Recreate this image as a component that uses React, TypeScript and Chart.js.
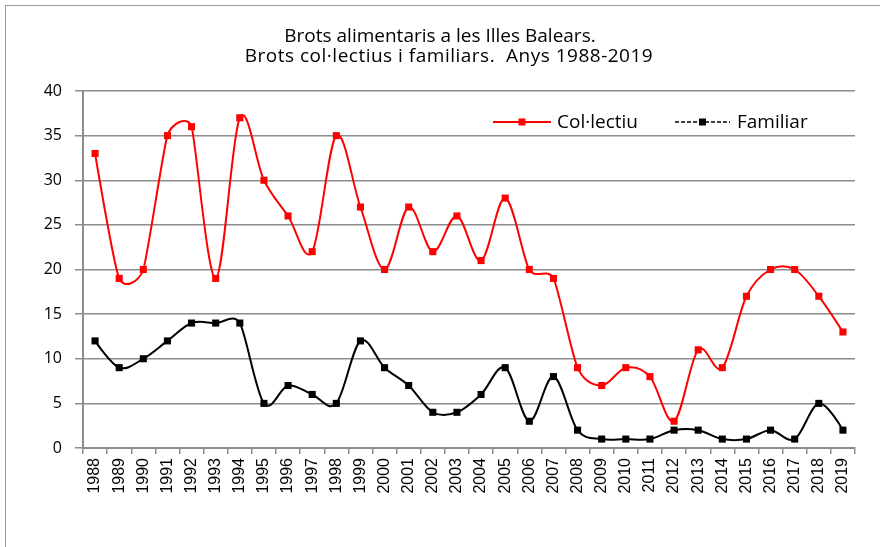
import React, { useEffect, useRef } from 'react';
import { Chart, registerables } from 'chart.js';

Chart.register(...registerables);

const YEARS = [
  '1988', '1989', '1990', '1991', '1992', '1993', '1994', '1995', '1996', '1997', '1998',
  '1999', '2000', '2001', '2002', '2003', '2004', '2005', '2006', '2007', '2008', '2009',
  '2010', '2011', '2012', '2013', '2014', '2015', '2016', '2017', '2018', '2019',
];

const COLLECTIU = [
  33, 19, 20, 35, 36, 19, 37, 30, 26, 22, 35, 27, 20, 27, 22, 26, 21, 28, 20, 19, 9, 7, 9, 8,
  3, 11, 9, 17, 20, 20, 17, 13,
];

const FAMILIAR = [
  12, 9, 10, 12, 14, 14, 14, 5, 7, 6, 5, 12, 9, 7, 4, 4, 6, 9, 3, 8, 2, 1, 1, 1, 2, 2, 1, 1, 2,
  1, 5, 2,
];

const TITLE_LINES = [
  'Brots alimentaris a les Illes Balears.',
  'Brots col·lectius i familiars.  Anys 1988-2019',
];

const SERIES_NAMES = ['Col·lectiu', 'Familiar'];
const SERIES_COLORS = ['#ff0000', '#000000'];

const Y_MIN = 0;
const Y_MAX = 40;
const Y_STEP = 5;

const GRID = '#8c8c8c';

// Excel-like smoothing: Catmull-Rom (1/6) control points capped at half the shorter adjacent segment
const smoothPlugin = {
  id: 'excelSmooth',
  beforeDatasetDraw(chart: any, args: any) {
    const meta = args.meta;
    const line = meta.dataset;
    if (!line) return;
    line.updateControlPoints(chart.chartArea, 'x');
    const pts = meta.data;
    for (let i = 0; i < pts.length; i++) {
      const p = pts[i];
      const pv = pts[i - 1] || p;
      const nx = pts[i + 1] || p;
      const vx = nx.x - pv.x;
      const vy = nx.y - pv.y;
      const d02 = Math.hypot(vx, vy);
      const d01 = Math.hypot(p.x - pv.x, p.y - pv.y);
      const d12 = Math.hypot(nx.x - p.x, nx.y - p.y);
      let f = 0;
      if (d02 > 0 && d01 > 0 && d12 > 0) {
        const len = Math.min(d02 / 6, Math.min(d01, d12) / 2);
        f = len / d02;
      }
      p.cp1x = p.x - vx * f;
      p.cp1y = p.y - vy * f;
      p.cp2x = p.x + vx * f;
      p.cp2y = p.y + vy * f;
    }
    line._path = undefined;
  },
};

const decorPlugin = {
  id: 'decor',
  afterDraw(chart: any) {
    const ctx = chart.ctx;
    ctx.save();
    // Title
    ctx.fillStyle = '#000';
    ctx.textAlign = 'center';
    ctx.textBaseline = 'middle';
    ctx.font = '19px "Open Sans"';
    ctx.fillText(TITLE_LINES[0], 434, 31);
    ctx.letterSpacing = '0.5px';
    ctx.fillText(TITLE_LINES[1], 443, 51);
    ctx.letterSpacing = '0px';

    // Legend
    const y = 116;
    const items = [
      { x0: 487, x1: 545, text: SERIES_NAMES[0], color: SERIES_COLORS[0], dash: [] as number[], tx: 551 },
      { x0: 669, x1: 724, text: SERIES_NAMES[1], color: SERIES_COLORS[1], dash: [4, 2], tx: 731 },
    ];
    ctx.font = '19px "Open Sans"';
    ctx.textAlign = 'left';
    for (const it of items) {
      ctx.strokeStyle = it.color;
      ctx.lineWidth = it.dash.length ? 1.3 : 1.8;
      ctx.setLineDash(it.dash);
      ctx.beginPath();
      ctx.moveTo(it.x0, y);
      ctx.lineTo(it.x1, y);
      ctx.stroke();
      ctx.setLineDash([]);
      ctx.fillStyle = it.color;
      const mx = (it.x0 + it.x1) / 2;
      ctx.fillRect(mx - 3.5, y - 3.5, 7, 7);
      ctx.fillStyle = '#000';
      ctx.fillText(it.text, it.tx, y + 1);
    }
    ctx.restore();
  },
};

export default function App() {
  const ref = useRef<HTMLCanvasElement | null>(null);

  useEffect(() => {
    if (!ref.current) return;
    const mkDataset = (i: number, data: number[]) => ({
      label: SERIES_NAMES[i],
      data,
      borderColor: SERIES_COLORS[i],
      backgroundColor: SERIES_COLORS[i],
      borderWidth: 2,
      pointStyle: 'rect',
      pointRadius: 5,
      pointBorderWidth: 0,
      tension: 0.4,
      fill: false,
    });
    const chart = new Chart(ref.current, {
      type: 'line',
      data: {
        labels: YEARS,
        datasets: [mkDataset(0, COLLECTIU), mkDataset(1, FAMILIAR)],
      },
      options: {
        responsive: false,
        animation: false,
        layout: { padding: { top: 85, right: 25, left: 0, bottom: 0 } },
        plugins: {
          legend: { display: false },
          title: { display: false },
          tooltip: { enabled: false },
        },
        scales: {
          x: {
            offset: true,
            grid: {
              display: true,
              drawOnChartArea: false,
              drawTicks: true,
              tickLength: 6,
              color: GRID,
              lineWidth: 1.5,
              offset: true,
            },
            border: { display: true, color: GRID, width: 2 },
            ticks: {
              autoSkip: false,
              minRotation: 90,
              maxRotation: 90,
              padding: 4,
              color: '#000',
              font: { family: '"Liberation Sans"', size: 16 },
            },
            afterFit: (s: any) => {
              s.height = 99;
            },
          },
          y: {
            min: Y_MIN,
            max: Y_MAX,
            ticks: {
              stepSize: Y_STEP,
              padding: 13,
              color: '#000',
              font: { family: '"Open Sans"', size: 16 },
            },
            grid: { color: GRID, lineWidth: 1.5, tickLength: 8 },
            border: { color: GRID, width: 2 },
            afterFit: (s: any) => {
              s.width = 77;
            },
          },
        },
      },
      plugins: [smoothPlugin, decorPlugin],
    } as any);
    return () => chart.destroy();
  }, []);

  return (
    <div
      style={{
        position: 'absolute',
        left: 5,
        top: 5,
        width: 900,
        height: 560,
        borderLeft: '1px solid #999',
        borderTop: '1px solid #999',
        background: '#fff',
      }}
    >
      <canvas ref={ref} width={874} height={541} style={{ display: 'block' }} />
    </div>
  );
}
